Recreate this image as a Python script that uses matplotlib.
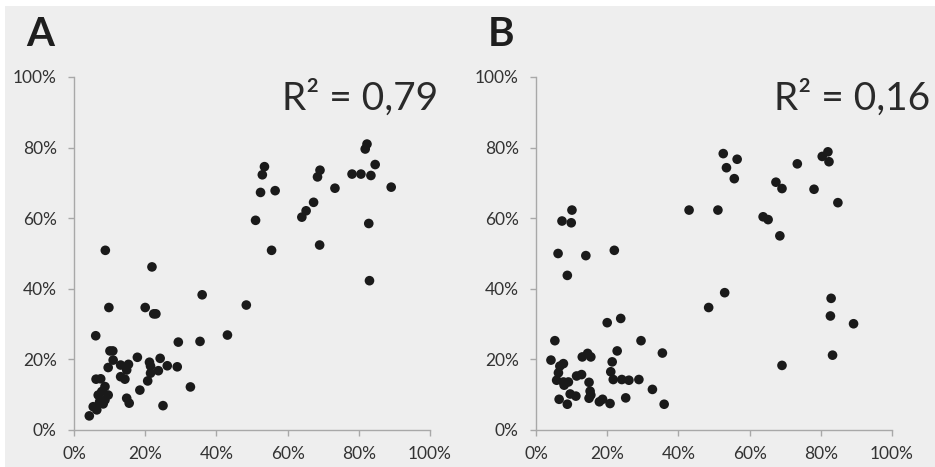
import matplotlib
matplotlib.use("Agg")
import matplotlib.pyplot as plt
from matplotlib.patches import Rectangle
from matplotlib.ticker import PercentFormatter

# panel A (x, y in %)
a_x = [8.8, 9.8, 6.1, 21.9, 20.0, 22.4, 23.0, 36.0, 48.4, 43.1, 35.4, 29.3, 32.7, 25.0,
       51.0, 55.5, 52.4, 56.5, 52.9, 53.5, 64.0, 65.2, 67.3, 69.0, 68.4, 69.1, 73.3,
       78.1, 80.6, 83.4, 84.6, 81.8, 82.3, 82.8, 83.0, 89.1,
       10.1, 10.9, 11.0, 9.6, 13.1, 15.3, 14.8, 17.8, 21.2, 21.5, 24.2, 26.2, 29.0,
       23.7, 21.5, 20.7, 18.5, 13.1, 14.3, 6.2, 7.5, 8.7, 7.8, 6.8, 9.6, 8.7, 8.2,
       7.2, 5.4, 6.4, 4.3, 14.8, 15.5]
a_y = [50.9, 34.7, 26.7, 46.2, 34.7, 32.9, 32.9, 38.3, 35.4, 26.9, 25.1, 24.9, 12.2, 6.9,
       59.4, 50.9, 67.3, 67.8, 72.3, 74.6, 60.3, 62.1, 64.5, 52.4, 71.7, 73.6, 68.5,
       72.5, 72.5, 72.1, 75.2, 79.6, 81.0, 58.5, 42.3, 68.8,
       22.4, 22.4, 19.8, 17.7, 18.4, 18.6, 17.0, 20.6, 19.2, 18.1, 20.3, 18.2, 17.9,
       16.8, 16.1, 13.9, 11.3, 15.1, 14.4, 14.4, 14.5, 12.3, 10.9, 9.9, 9.9, 8.5, 7.4,
       8.0, 6.6, 5.7, 4.0, 9.0, 7.6]

# panel B
b_x = [10.1, 7.3, 9.9, 6.2, 14.0, 8.8, 22.0, 20.0, 23.8, 5.3, 29.5, 22.8, 35.5,
       43.0, 51.1, 52.6, 53.5, 56.5, 55.7, 48.5, 53.0, 63.8, 65.2, 68.5, 67.4, 69.1,
       73.4, 78.1, 80.4, 82.0, 82.3, 84.8, 82.9, 82.7, 89.2, 83.3, 69.1,
       13.0, 14.5, 15.4, 4.2, 7.7, 6.7, 21.4, 21.0, 6.3, 21.7, 24.1, 26.1, 28.9,
       11.4, 12.8, 5.8, 7.7, 9.1, 7.9, 14.9, 15.2, 15.4, 9.6, 11.2, 14.9, 6.5, 8.8,
       17.8, 18.7, 20.8, 25.2, 32.7, 36.0]
b_y = [62.3, 59.2, 58.7, 50.0, 49.4, 43.8, 50.9, 30.4, 31.6, 25.3, 25.3, 22.4, 21.8,
       62.3, 62.3, 78.3, 74.3, 76.7, 71.2, 34.7, 38.9, 60.4, 59.6, 55.0, 70.2, 68.4,
       75.4, 68.2, 77.5, 78.8, 76.0, 64.4, 37.3, 32.3, 30.1, 21.2, 18.3,
       20.7, 21.7, 20.7, 19.8, 18.8, 18.1, 19.3, 16.5, 16.2, 14.3, 14.3, 14.1, 14.3,
       15.3, 15.7, 14.1, 13.6, 13.6, 12.7, 13.5, 11.0, 9.9, 10.2, 9.6, 9.0, 8.7, 7.3,
       8.0, 8.7, 7.5, 9.1, 11.5, 7.3]

panels = [("A", "R² = 0,79", a_x, a_y), ("B", "R² = 0,16", b_x, b_y)]
ticks = [0, 20, 40, 60, 80, 100]

plt.rcParams['font.family'] = ['Lato', 'DejaVu Sans']
bg = "#eeeeee"
axis_col = "#a8a8a8"
text_col = "#333333"

fig = plt.figure(figsize=(9.35, 4.67), dpi=100, facecolor="white")
fig.patches.append(Rectangle((5 / 935, 0), 1, 1 - 6 / 467, transform=fig.transFigure,
                             facecolor=bg, edgecolor="none", zorder=-10))

lefts = [74 / 935, 536 / 935]
rtext_x = [0.584, 0.669]
label_x = [26 / 935, 488 / 935]
for i, (lab, r2, xs, ys) in enumerate(panels):
    ax = fig.add_axes([lefts[i], 37 / 467, 356 / 935, 353 / 467])
    ax.set_facecolor("none")
    ax.scatter(xs, ys, s=48, color="#1a1a1a", edgecolors="none", zorder=3, clip_on=False)
    ax.set_xlim(0, 100)
    ax.set_ylim(0, 100)
    ax.set_xticks(ticks)
    ax.set_yticks(ticks)
    ax.xaxis.set_major_formatter(PercentFormatter(decimals=0))
    ax.yaxis.set_major_formatter(PercentFormatter(decimals=0))
    for s in ["top", "right"]:
        ax.spines[s].set_visible(False)
    for s in ["left", "bottom"]:
        ax.spines[s].set_color(axis_col)
        ax.spines[s].set_linewidth(1.0)
    ax.tick_params(axis="x", length=4.5, width=1.0, color=axis_col, pad=7,
                   labelsize=12.5, labelcolor=text_col)
    ax.tick_params(axis="y", length=4.5, width=1.0, color=axis_col, pad=8,
                   labelsize=12.5, labelcolor=text_col)
    ax.text(rtext_x[i], 0.906, r2, transform=ax.transAxes, fontsize=28,
            color="#2a2a2a", ha="left", va="baseline")
    fig.text(label_x[i], 1 - 46 / 467, lab, fontsize=29, fontweight="bold",
             color="#1e1e1e", ha="left", va="baseline")

fig.savefig("out.png", dpi=100, facecolor="white")
